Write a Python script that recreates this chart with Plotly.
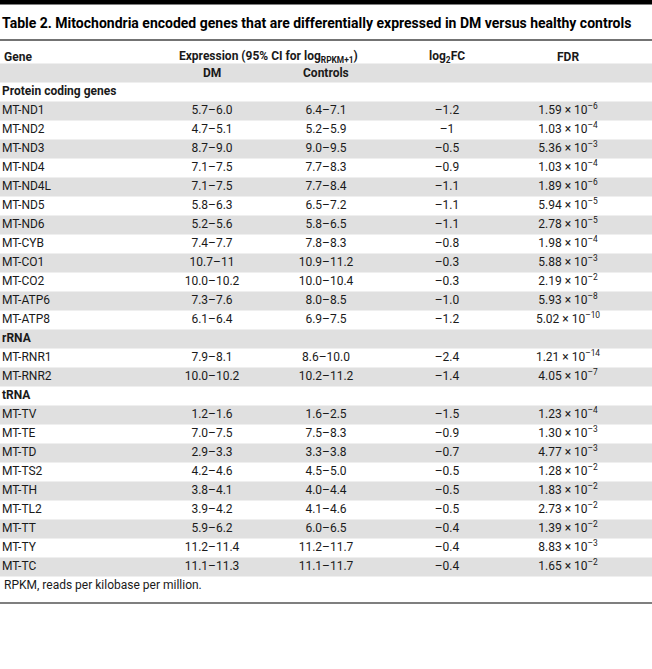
import plotly.graph_objects as go

# Table 2 data
sections = ["Protein coding genes", "rRNA", "tRNA"]
section_sizes = [12, 2, 9]

genes = ["MT-ND1", "MT-ND2", "MT-ND3", "MT-ND4", "MT-ND4L", "MT-ND5", "MT-ND6",
         "MT-CYB", "MT-CO1", "MT-CO2", "MT-ATP6", "MT-ATP8",
         "MT-RNR1", "MT-RNR2",
         "MT-TV", "MT-TE", "MT-TD", "MT-TS2", "MT-TH", "MT-TL2", "MT-TT", "MT-TY", "MT-TC"]

dm_ci = ["5.7–6.0", "4.7–5.1", "8.7–9.0", "7.1–7.5", "7.1–7.5", "5.8–6.3", "5.2–5.6",
         "7.4–7.7", "10.7–11", "10.0–10.2", "7.3–7.6", "6.1–6.4",
         "7.9–8.1", "10.0–10.2",
         "1.2–1.6", "7.0–7.5", "2.9–3.3", "4.2–4.6", "3.8–4.1", "3.9–4.2", "5.9–6.2", "11.2–11.4", "11.1–11.3"]

ctrl_ci = ["6.4–7.1", "5.2–5.9", "9.0–9.5", "7.7–8.3", "7.7–8.4", "6.5–7.2", "5.8–6.5",
           "7.8–8.3", "10.9–11.2", "10.0–10.4", "8.0–8.5", "6.9–7.5",
           "8.6–10.0", "10.2–11.2",
           "1.6–2.5", "7.5–8.3", "3.3–3.8", "4.5–5.0", "4.0–4.4", "4.1–4.6", "6.0–6.5", "11.2–11.7", "11.1–11.7"]

log2fc = ["–1.2", "–1", "–0.5", "–0.9", "–1.1", "–1.1", "–1.1",
          "–0.8", "–0.3", "–0.3", "–1.0", "–1.2",
          "–2.4", "–1.4",
          "–1.5", "–0.9", "–0.7", "–0.5", "–0.5", "–0.5", "–0.4", "–0.4", "–0.4"]

fdr_mantissa = [1.59, 1.03, 5.36, 1.03, 1.89, 5.94, 2.78,
                1.98, 5.88, 2.19, 5.93, 5.02,
                1.21, 4.05,
                1.23, 1.30, 4.77, 1.28, 1.83, 2.73, 1.39, 8.83, 1.65]
fdr_exponent = [-6, -4, -3, -4, -6, -5, -5,
                -4, -3, -2, -8, -10,
                -14, -7,
                -4, -3, -3, -2, -2, -2, -2, -3, -2]

title = "Table 2. Mitochondria encoded genes that are differentially expressed in DM versus healthy controls"
footnote = "RPKM, reads per kilobase per million."

# page geometry (pixels)
W, H = 652, 669
FONT = "Roboto, Liberation Sans, sans-serif"
INK = "#1a1a1a"
BAND = "#e0e0e0"
ROW_H = 19
FIRST_ROW_Y = 92          # centre of the "Protein coding genes" row
X_GENE, X_DM, X_CTRL, X_FC, X_FDR = 2, 212, 326, 447, 568

# build the body rows: section label rows followed by gene rows
row_kind = []
for name, n in zip(sections, section_sizes):
    row_kind += ["section"] + ["gene"] * n

row_y = [FIRST_ROW_Y + ROW_H * r for r in range(len(row_kind))]

fig = go.Figure()

# alternating gray bands (sub-header row is row -1)
shapes = []
for r in range(-1, len(row_kind)):
    if r % 2 == 1:
        yc = FIRST_ROW_Y + ROW_H * r
        shapes.append(dict(type="rect", xref="x", yref="y", x0=0, x1=W,
                           y0=yc - 9.5, y1=yc + 9.5, fillcolor=BAND,
                           line=dict(width=0), layer="below"))

shapes += [
    dict(type="rect", xref="x", yref="y", x0=0, x1=W, y0=0, y1=4.5,
         fillcolor="black", line=dict(width=0)),
    dict(type="line", xref="x", yref="y", x0=0, x1=W, y0=40, y1=40,
         line=dict(color="#444", width=1.5)),
    dict(type="line", xref="x", yref="y", x0=0, x1=W, y0=603, y1=603,
         line=dict(color="#555", width=1.5)),
]

gene_y = [row_y[r] for r, kd in enumerate(row_kind) if kd == "gene"]
sec_y = [row_y[r] for r, kd in enumerate(row_kind) if kd == "section"]
fdr_txt = [f"{m:.2f} × 10<sup>–{abs(e)}</sup>" for m, e in zip(fdr_mantissa, fdr_exponent)]

body_font = dict(family=FONT, size=12, color=INK)

# section labels (bold)
fig.add_trace(go.Scatter(x=[X_GENE] * len(sections), y=sec_y, mode="text",
                         text=[f"<b>{s}</b>" for s in sections],
                         textposition="middle right", textfont=body_font))
# gene names
fig.add_trace(go.Scatter(x=[X_GENE] * len(genes), y=gene_y, mode="text",
                         text=genes, textposition="middle right", textfont=body_font))
# value columns
for xc, vals in [(X_DM, dm_ci), (X_CTRL, ctrl_ci), (X_FC, log2fc), (X_FDR, fdr_txt)]:
    fig.add_trace(go.Scatter(x=[xc] * len(vals), y=gene_y, mode="text",
                             text=vals, textposition="middle center", textfont=body_font))

# header labels
headers = [
    (X_GENE, 57, "Gene", "left"),
    (268, 57, "Expression (95% CI for log<sub>RPKM+1</sub>)", "center"),
    (X_FC, 57, "log<sub>2</sub>FC", "center"),
    (X_FDR, 57, "FDR", "center"),
    (X_DM, 73, "DM", "center"),
    (X_CTRL, 73, "Controls", "center"),
]
annotations = [dict(x=x, y=y, xref="x", yref="y", text=f"<b>{t}</b>", showarrow=False,
                    xanchor=a, yanchor="middle", font=body_font)
               for x, y, t, a in headers]
annotations.append(dict(x=0, y=23, xref="x", yref="y", text=f"<b>{title}</b>", showarrow=False,
                        xanchor="left", yanchor="middle",
                        font=dict(family=FONT, size=14, color="black")))
annotations.append(dict(x=X_GENE, y=585, xref="x", yref="y", text=footnote, showarrow=False,
                        xanchor="left", yanchor="middle", font=body_font))

fig.update_layout(
    width=W, height=H,
    margin=dict(l=0, r=0, t=0, b=0),
    paper_bgcolor="white", plot_bgcolor="white",
    showlegend=False,
    shapes=shapes,
    annotations=annotations,
    xaxis=dict(range=[0, W], visible=False, fixedrange=True),
    yaxis=dict(range=[H, 0], visible=False, fixedrange=True),
)

# drop the browser's default page margin so the table sits flush at the top-left
fig.write_html("out.html", config={"displayModeBar": False},
               post_script="document.body.style.margin='0';")
